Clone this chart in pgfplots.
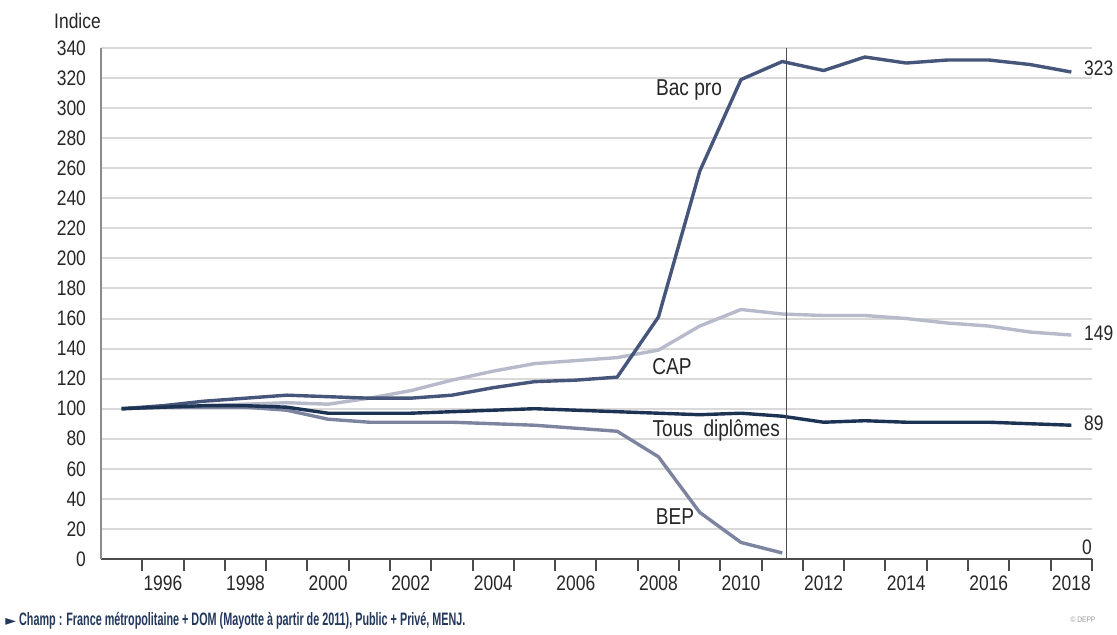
\documentclass[border=0pt]{standalone}
\usepackage{fontspec}
\setmainfont{Liberation Sans}[FakeStretch=0.83]
\newfontfamily\notefont{Liberation Sans}[FakeStretch=0.6]
\newfontfamily\symfont{DejaVu Sans}
\usepackage{pgfplots}
\pgfplotsset{compat=1.18}

\definecolor{cBacpro}{HTML}{46557A}
\definecolor{cTous}{HTML}{1D3354}
\definecolor{cCAP}{HTML}{B7BACA}
\definecolor{cBEP}{HTML}{7D849F}
\definecolor{txt}{HTML}{262626}
\definecolor{note}{HTML}{23385C}

\begin{document}
\begin{tikzpicture}
\begin{axis}[
    scale only axis,
    width=495.5pt, height=255.5pt,
    xmin=1994.5, xmax=2018.5,
    ymin=0, ymax=340,
    axis x line*=bottom, axis y line*=left,
    axis line style={-, line width=1pt},
    x axis line style={draw=black!70},
    y axis line style={draw=black!45},
    ytick={0,20,...,340},
    ymajorgrids,
    grid style={black!15, line width=1pt},
    y tick style={draw=none},
    xtick={1996,1998,...,2018},
    xticklabels={1996,1998,2000,2002,2004,2006,2008,2010,2012,2014,2016,2018},
    major x tick style={draw=none},
    minor xtick={1995.5,1996.5,...,2018.5},
    minor x tick style={draw=black!70, line width=1pt},
    tick align=outside,
    minor tick length=6pt,
    major tick length=6pt,
    tick label style={font=\fontsize{10.5}{12}\selectfont, text=txt},
    yticklabel style={xshift=2pt},
    xticklabel style={yshift=1pt},
    /pgf/number format/assume math mode=true,
    clip=false,
    every axis plot/.append style={line width=1.7pt, line join=round},
]
\addplot[color=cCAP] coordinates {
 (1995,100) (1996,101) (1997,102) (1998,103) (1999,104) (2000,103)
 (2001,107) (2002,112) (2003,119) (2004,125) (2005,130) (2006,132)
 (2007,134) (2008,139) (2009,155) (2010,166) (2011,163) (2012,162)
 (2013,162) (2014,160) (2015,157) (2016,155) (2017,151) (2018,149)};
\addplot[color=cBEP] coordinates {
 (1995,100) (1996,101) (1997,101) (1998,101) (1999,99) (2000,93)
 (2001,91) (2002,91) (2003,91) (2004,90) (2005,89) (2006,87)
 (2007,85) (2008,68) (2009,31) (2010,11) (2011,4)};
\addplot[color=cBacpro] coordinates {
 (1995,100) (1996,102) (1997,105) (1998,107) (1999,109) (2000,108)
 (2001,107) (2002,107) (2003,109) (2004,114) (2005,118) (2006,119)
 (2007,121) (2008,161) (2009,258) (2010,319) (2011,331) (2012,325)
 (2013,334) (2014,330) (2015,332) (2016,332) (2017,329) (2018,324)};
\addplot[color=cTous] coordinates {
 (1995,100) (1996,101) (1997,102) (1998,102) (1999,101) (2000,97)
 (2001,97) (2002,97) (2003,98) (2004,99) (2005,100) (2006,99)
 (2007,98) (2008,97) (2009,96) (2010,97) (2011,95) (2012,91)
 (2013,92) (2014,91) (2015,91) (2016,91) (2017,90) (2018,89)};
\draw[black!70, line width=0.8pt] (axis cs:2011.1,0) -- (axis cs:2011.1,340);

\begin{scope}[every node/.style={font=\fontsize{11.5}{13}\selectfont, text=txt}]
\node at (axis cs:2008.74,312) {Bac pro};
\node at (axis cs:2008.33,128) {CAP};
\node at (axis cs:2009.4,85.3) {Tous\ \ diplômes};
\node at (axis cs:2008.4,28) {BEP};
\end{scope}
\begin{scope}[every node/.style={font=\fontsize{10.5}{12}\selectfont, text=txt, anchor=west, inner sep=0pt}]
\node at (axis cs:2018.3,326.5) {323};
\node at (axis cs:2018.3,150.5) {149};
\node at (axis cs:2018.3,90.5) {89};
\node at (axis cs:2018.25,8) {0};
\end{scope}
\end{axis}
\node[font=\fontsize{10.5}{12}\selectfont, text=txt] at (-11.75pt,269pt) {Indice};
\node[anchor=west, inner sep=0pt, text=note, font=\notefont\fontsize{9}{10}\bfseries] at (-48pt,-31pt)
  {{\symfont\fontsize{7}{8}\selectfont ►} Champ : France métropolitaine + DOM (Mayotte à partir de 2011), Public + Privé, MENJ.};
\node[text=black!40, font=\fontsize{4}{5}\selectfont] at (491pt,-30.5pt) {© DEPP};
\pgfresetboundingbox
\path[use as bounding box] (-50.5pt,-38pt) rectangle (508pt,279.5pt);
\end{tikzpicture}
\end{document}
